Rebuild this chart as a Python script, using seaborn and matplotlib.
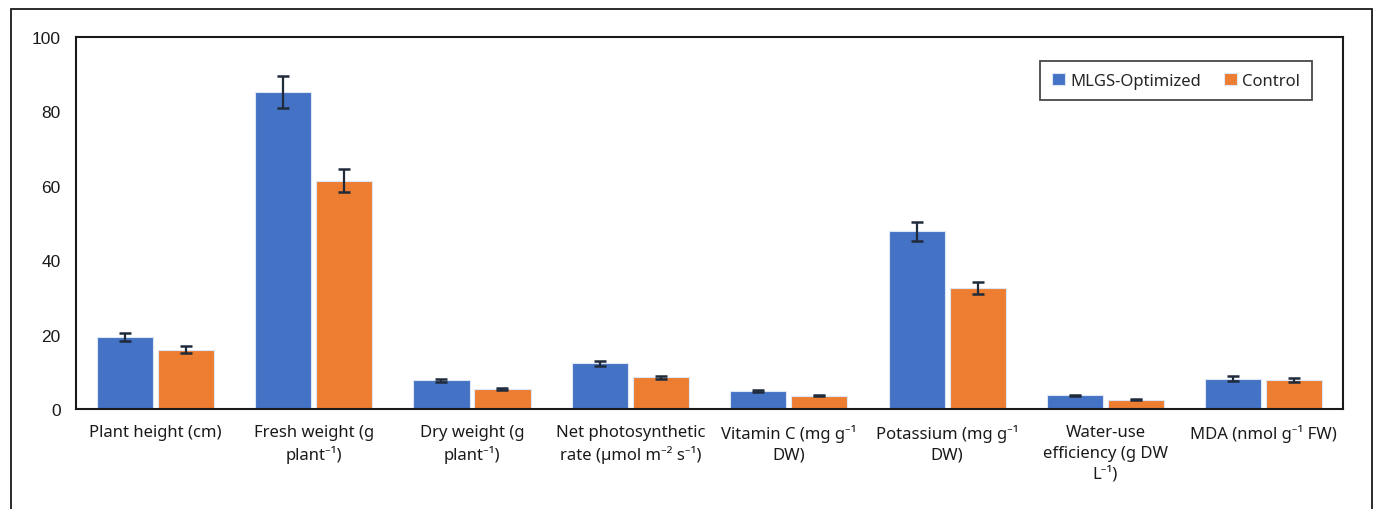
import numpy as np
import pandas as pd
import seaborn as sns
import matplotlib.pyplot as plt
from matplotlib.patches import Rectangle

categories = [
    "Plant height (cm)",
    "Fresh weight (g\nplant\u207b\u00b9)",
    "Dry weight (g\nplant\u207b\u00b9)",
    "Net photosynthetic\nrate (\u00b5mol m\u207b\u00b2 s\u207b\u00b9)",
    "Vitamin C (mg g\u207b\u00b9\nDW)",
    "Potassium (mg g\u207b\u00b9\nDW)",
    "Water-use\nefficiency (g DW\nL\u207b\u00b9)",
    "MDA (nmol g\u207b\u00b9 FW)",
]
groups = ["MLGS-Optimized", "Control"]
optimized = [19.4, 85.1, 7.7, 12.3, 4.9, 47.8, 3.7, 8.2]
optimized_err = [1.0, 4.3, 0.4, 0.65, 0.25, 2.5, 0.2, 0.6]
control = [16.0, 61.4, 5.4, 8.5, 3.6, 32.5, 2.5, 7.8]
control_err = [0.95, 3.1, 0.3, 0.5, 0.2, 1.7, 0.15, 0.5]
yticks = [0, 20, 40, 60, 80, 100]

colors = {"MLGS-Optimized": "#4472C4", "Control": "#ED7D31"}

df = pd.DataFrame({
    "category": categories * 2,
    "group": [groups[0]] * len(categories) + [groups[1]] * len(categories),
    "value": optimized + control,
})
errs = {groups[0]: optimized_err, groups[1]: control_err}

sns.set_style("white")
plt.rcParams["font.family"] = ["Noto Sans", "DejaVu Sans"]

fig = plt.figure(figsize=(13.78, 5.10), dpi=100)
ax = fig.add_axes([0.0552, 0.196, 0.9194, 0.7295])

sns.barplot(data=df, x="category", y="value", hue="group", hue_order=groups,
            order=categories, palette=colors, saturation=1, width=0.77, gap=0.08,
            errorbar=None, edgecolor="#dce6f5", linewidth=0.8, ax=ax)

# error bars placed on the bars seaborn drew
for cont, g in zip(ax.containers, groups):
    xs = [p.get_x() + p.get_width() / 2 for p in cont.patches]
    hs = [p.get_height() for p in cont.patches]
    ax.errorbar(xs, hs, yerr=errs[g], fmt="none", ecolor="#1f2a3a",
                elinewidth=1.6, capsize=4.5, capthick=1.8, zorder=5)

ax.set_ylim(0, 100)
ax.set_yticks(yticks)
ax.set_xlim(-0.5, len(categories) - 0.5)
ax.set_xlabel("")
ax.set_ylabel("")
for s in ax.spines.values():
    s.set_visible(True)
    s.set_color("#1a1a1a")
    s.set_linewidth(1.5)
ax.tick_params(axis="both", direction="out", length=5, width=1.3, color="#1a1a1a")
ax.tick_params(axis="x", labelsize=12, pad=6, labelcolor="#1a1a1a")
ax.tick_params(axis="y", labelsize=12.5, pad=6, labelcolor="#1a1a1a")
for t in ax.get_yticklabels():
    t.set_family(["Liberation Sans", "DejaVu Sans"])
for t in ax.get_xticklabels():
    t.set_linespacing(1.35)

leg = ax.legend(loc="upper right", bbox_to_anchor=(0.982, 0.958), ncol=2,
                frameon=True, fancybox=False, fontsize=12, handlelength=0.8,
                handleheight=0.8, handletextpad=0.3, columnspacing=1.4,
                borderpad=0.7, edgecolor="#1a1a1a")
leg.get_frame().set_linewidth(1.3)

fig.add_artist(Rectangle((11 / 1378, -0.1), (1372 - 11) / 1378, 1.1 - 10 / 510,
                         transform=fig.transFigure, fill=False,
                         edgecolor="#1a1a1a", linewidth=1.3, clip_on=False))

fig.savefig("out.png", dpi=100)
